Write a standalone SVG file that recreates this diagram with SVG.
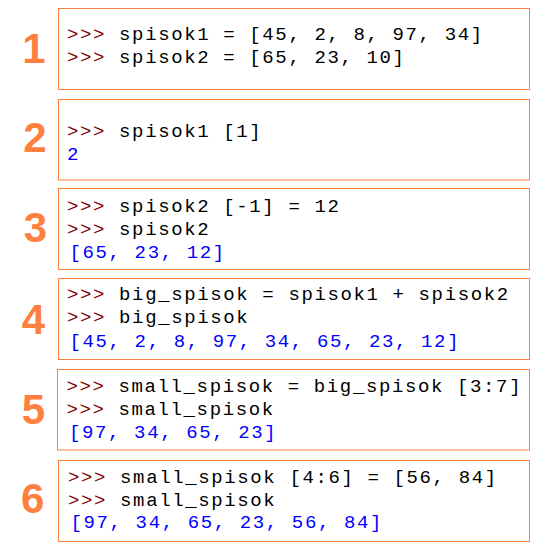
<svg xmlns="http://www.w3.org/2000/svg" width="560" height="553" viewBox="0 0 560 553">
<style>
.box{fill:#ffffff;stroke:#ff7f3f;stroke-width:1}
.num{font-family:"Liberation Sans",Arial,sans-serif;font-weight:bold;font-size:42px;fill:#ff7f3f;text-anchor:middle}
.code{font-family:"Liberation Mono","Courier New",monospace;font-size:19px;letter-spacing:1.62px;fill:#000000;white-space:pre}
.p{fill:#800000}
.out{fill:#0000ff}
</style>
<rect x="0" y="0" width="560" height="553" fill="#ffffff"/>
<g id="node1">
<rect class="box" x="58.5" y="8.5" width="471" height="81"/>
<text class="num" x="34" y="63.3">1</text>
<text class="code" x="67" y="40" xml:space="preserve"><tspan class="p">&gt;&gt;&gt;</tspan> spisok1 = [45, 2, 8, 97, 34]</text>
<text class="code" x="67" y="63.3" xml:space="preserve"><tspan class="p">&gt;&gt;&gt;</tspan> spisok2 = [65, 23, 10]</text>
</g>
<g id="node2">
<rect class="box" x="58.5" y="99.5" width="471" height="80.5"/>
<text class="num" x="35" y="151.7">2</text>
<text class="code" x="67" y="136.7" xml:space="preserve"><tspan class="p">&gt;&gt;&gt;</tspan> spisok1 [1]</text>
<text class="code out" x="67" y="160">2</text>
</g>
<g id="node3">
<rect class="box" x="58.5" y="188.5" width="471" height="81"/>
<text class="num" x="35.5" y="242.3">3</text>
<text class="code" x="67" y="211.7" xml:space="preserve"><tspan class="p">&gt;&gt;&gt;</tspan> spisok2 [-1] = 12</text>
<text class="code" x="67" y="235" xml:space="preserve"><tspan class="p">&gt;&gt;&gt;</tspan> spisok2</text>
<text class="code out" x="69.5" y="257.5" xml:space="preserve">[65, 23, 12]</text>
</g>
<g id="node4">
<rect class="box" x="58.5" y="278.5" width="471" height="81"/>
<text class="num" x="33.5" y="334">4</text>
<text class="code" x="67" y="300" xml:space="preserve"><tspan class="p">&gt;&gt;&gt;</tspan> big_spisok = spisok1 + spisok2</text>
<text class="code" x="67" y="323.3" xml:space="preserve"><tspan class="p">&gt;&gt;&gt;</tspan> big_spisok</text>
<text class="code out" x="69.5" y="346.7" xml:space="preserve">[45, 2, 8, 97, 34, 65, 23, 12]</text>
</g>
<g id="node5">
<rect class="box" x="57.5" y="369.5" width="472" height="80.5"/>
<text class="num" x="33.5" y="424">5</text>
<text class="code" x="66.4" y="391.5" xml:space="preserve"><tspan class="p">&gt;&gt;&gt;</tspan> small_spisok = big_spisok [3:7]</text>
<text class="code" x="66.4" y="414.5" xml:space="preserve"><tspan class="p">&gt;&gt;&gt;</tspan> small_spisok</text>
<text class="code out" x="69" y="437.7" xml:space="preserve">[97, 34, 65, 23]</text>
</g>
<g id="node6">
<rect class="box" x="58.5" y="460.5" width="471" height="81"/>
<text class="num" x="32.7" y="513.3">6</text>
<text class="code" x="68" y="483.3" xml:space="preserve"><tspan class="p">&gt;&gt;&gt;</tspan> small_spisok [4:6] = [56, 84]</text>
<text class="code" x="68" y="505.7" xml:space="preserve"><tspan class="p">&gt;&gt;&gt;</tspan> small_spisok</text>
<text class="code out" x="70.5" y="528.3" xml:space="preserve">[97, 34, 65, 23, 56, 84]</text>
</g>
<g id="connectors"></g>
</svg>
